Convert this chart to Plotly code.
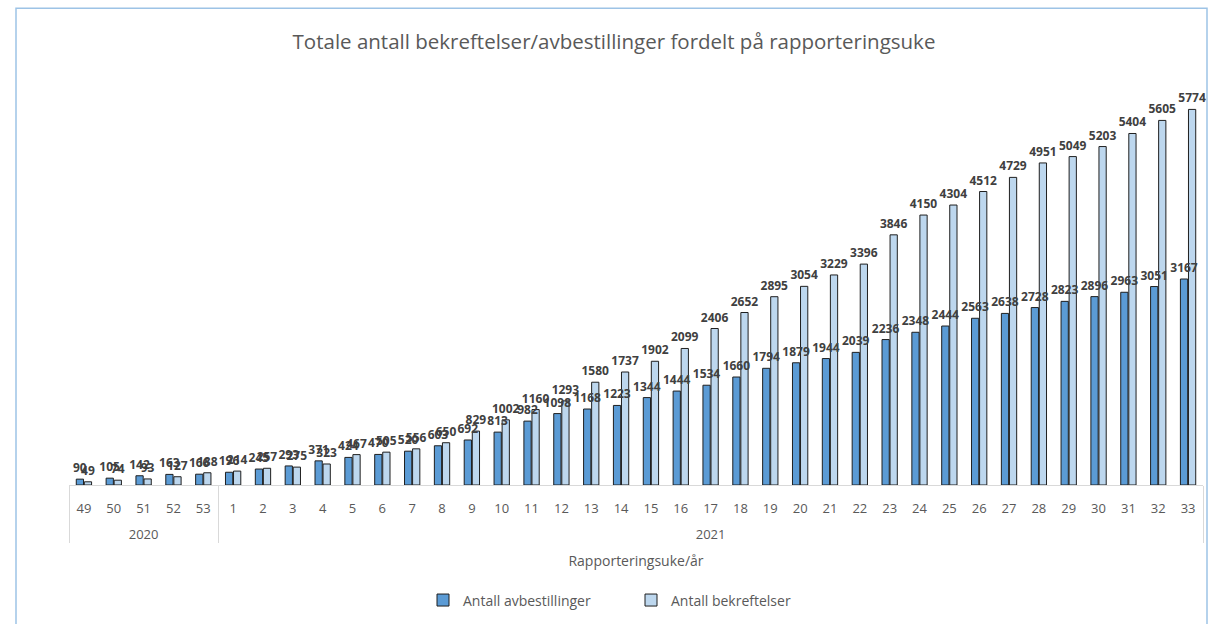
import plotly.graph_objects as go

years = ["<br>2020"] * 5 + ["<br>2021"] * 33
weeks = ["49", "50", "51", "52", "53"] + [str(i) for i in range(1, 34)]

avbestillinger = [90, 105, 142, 163, 166,
                  196, 245, 293, 371, 424, 470, 520, 603, 692, 813,
                  982, 1098, 1168, 1223, 1344, 1444, 1534, 1660, 1794, 1879,
                  1944, 2039, 2236, 2348, 2444, 2563, 2638, 2728, 2823, 2896,
                  2963, 3051, 3167]
bekreftelser = [49, 74, 93, 127, 188,
                214, 257, 275, 323, 467, 505, 556, 650, 829, 1002,
                1160, 1293, 1580, 1737, 1902, 2099, 2406, 2652, 2895, 3054,
                3229, 3396, 3846, 4150, 4304, 4512, 4729, 4951, 5049, 5203,
                5404, 5605, 5774]

FONT = "Open Sans"
W, H = 1211, 624
ml, mr, mt, mb = 69, 8, 70, 137

x = [years, weeks]
label_font = dict(family=FONT, size=12, color="#404040", weight="bold")
outline = dict(color="#1F1F1F", width=1)

fig = go.Figure()
# bars
fig.add_trace(go.Bar(x=x, y=avbestillinger, name="Antall avbestillinger", offsetgroup="a",
                     marker=dict(color="#5B9BD5", line=outline)))
fig.add_trace(go.Bar(x=x, y=bekreftelser, name="Antall bekreftelser", offsetgroup="b",
                     marker=dict(color="#BDD7EE", line=outline)))
# value labels, drawn on top of all bars
for vals, grp in [(avbestillinger, "a"), (bekreftelser, "b")]:
    fig.add_trace(go.Bar(x=x, y=vals, offsetgroup=grp, showlegend=False, hoverinfo="skip",
                         marker=dict(color="rgba(0,0,0,0)", line=dict(width=0)),
                         text=vals, textposition="outside", textangle=0,
                         constraintext="none", cliponaxis=False, textfont=label_font))

pw = W - ml - mr
ph = H - mt - mb
bx0 = (16 - ml) / pw
bx1 = (1207 - ml) / pw
by1 = (H - mb - 8) / ph
by0 = (H - mb - 640) / ph

fig.update_layout(
    width=W, height=H,
    margin=dict(l=ml, r=mr, t=mt, b=mb),
    paper_bgcolor="white", plot_bgcolor="white",
    barmode="group", bargap=0.46, bargroupgap=0.1,
    font=dict(family=FONT, color="#595959"),
    title=dict(text="Totale antall bekreftelser/avbestillinger fordelt på rapporteringsuke",
               x=(614 - ml) / pw, xref="paper", xanchor="center", y=1 - 42 / H, yanchor="middle",
               font=dict(family=FONT, size=20.5, color="#595959")),
    xaxis=dict(type="multicategory", showline=True, linecolor="#D9D9D9", linewidth=1,
               showdividers=True, dividercolor="#D9D9D9", dividerwidth=1,
               ticks="", ticklabelstandoff=11,
               tickfont=dict(family=FONT, size=13, color="#595959"),
               title=dict(text="Rapporteringsuke/år", font=dict(family=FONT, size=14, color="#595959"),
                          standoff=14),
               showgrid=False, zeroline=False),
    yaxis=dict(visible=False, range=[0, 6380], showgrid=False, zeroline=False),
    legend=dict(orientation="h", x=0.5 - 5 / pw, xanchor="center", y=-(603 - (H - mb)) / ph, yanchor="middle",
                font=dict(family=FONT, size=14, color="#595959"),
                entrywidth=163, entrywidthmode="pixels", traceorder="normal"),
    shapes=[dict(type="rect", xref="paper", yref="paper", x0=bx0, x1=bx1, y0=by0, y1=by1,
                 line=dict(color="#9DC3E6", width=1.5), fillcolor="rgba(0,0,0,0)", layer="below")],
)

fig.write_html("out.html", post_script="document.body.style.margin='0';",
               config={"displayModeBar": False})
